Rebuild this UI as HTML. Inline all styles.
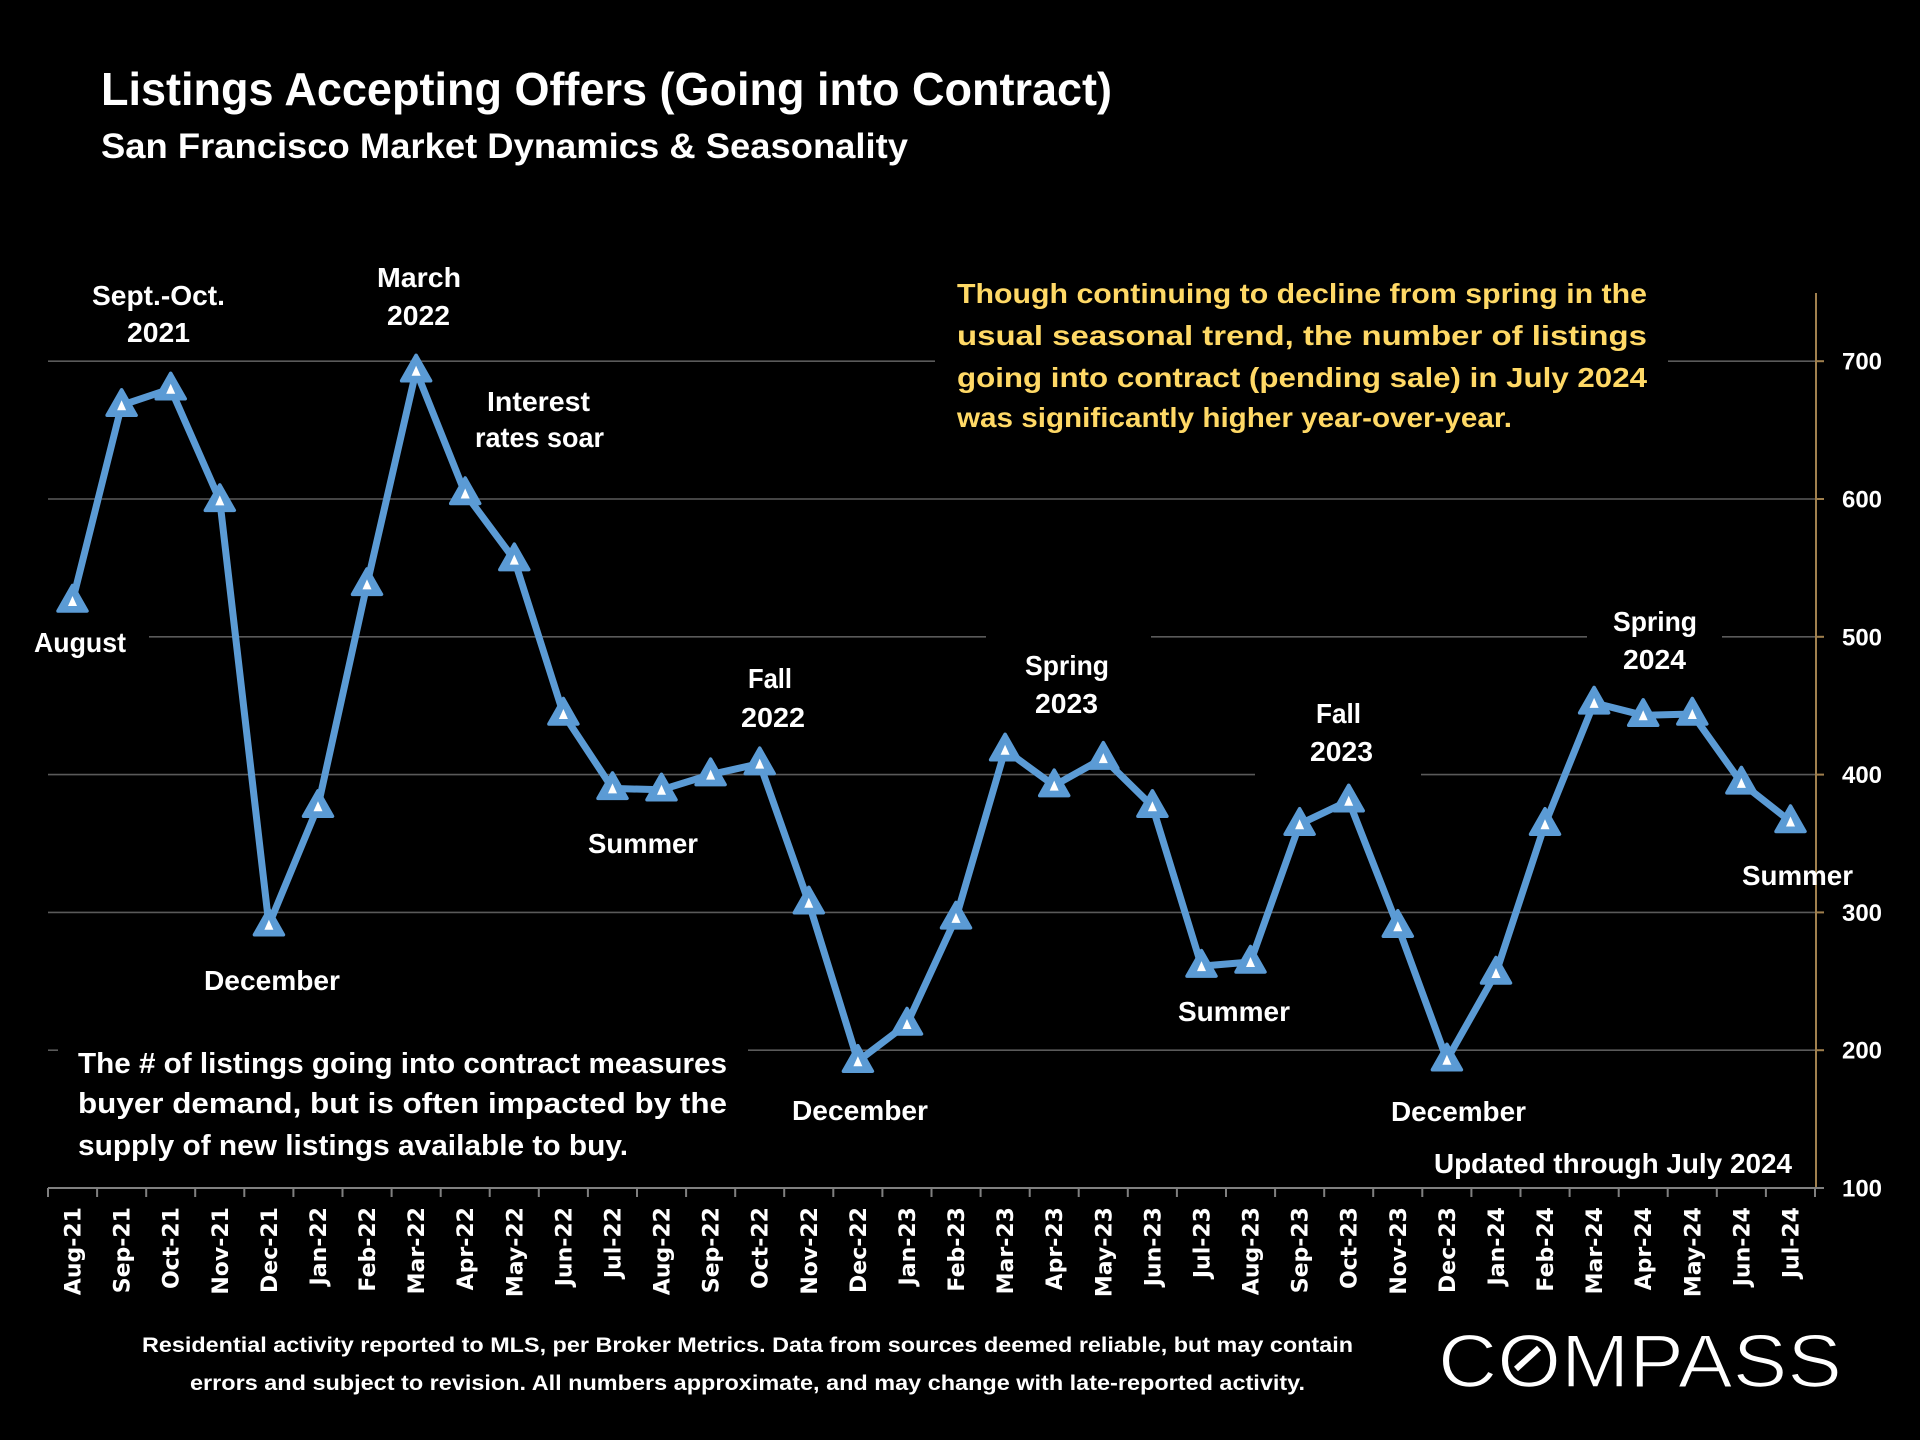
<!DOCTYPE html>
<html>
<head>
<meta charset="utf-8">
<style>
html,body{margin:0;padding:0;background:#000;}
body{width:1920px;height:1440px;overflow:hidden;}
svg{display:block;}
text{font-family:"Liberation Sans",Arial,sans-serif;font-weight:bold;fill:#fff;}
.xl{font-family:"DejaVu Sans","Liberation Sans",sans-serif;font-size:22px;font-weight:bold;}
</style>
</head>
<body>
<svg width="1920" height="1440" viewBox="0 0 1920 1440" xmlns="http://www.w3.org/2000/svg">
<rect width="1920" height="1440" fill="#000"/>

<!-- gridlines -->
<g stroke="#5a5a5a" stroke-width="1.6">
  <line x1="48" y1="361.2" x2="935" y2="361.2"/>
  <line x1="1668" y1="361.2" x2="1816" y2="361.2"/>
  <line x1="48" y1="499" x2="1816" y2="499"/>
  <line x1="149" y1="636.8" x2="986" y2="636.8"/>
  <line x1="1151" y1="636.8" x2="1587" y2="636.8"/>
  <line x1="1722" y1="636.8" x2="1816" y2="636.8"/>
  <line x1="48" y1="774.6" x2="1255" y2="774.6"/>
  <line x1="1421" y1="774.6" x2="1816" y2="774.6"/>
  <line x1="48" y1="912.4" x2="1816" y2="912.4"/>
  <line x1="48" y1="1050.2" x2="58" y2="1050.2"/>
  <line x1="748" y1="1050.2" x2="1816" y2="1050.2"/>
</g>

<!-- right axis -->
<g stroke="#a0804e" stroke-width="2">
  <line x1="1816" y1="293" x2="1816" y2="1188"/>
  <line x1="1816" y1="361.2" x2="1824" y2="361.2"/>
  <line x1="1816" y1="499" x2="1824" y2="499"/>
  <line x1="1816" y1="636.8" x2="1824" y2="636.8"/>
  <line x1="1816" y1="774.6" x2="1824" y2="774.6"/>
  <line x1="1816" y1="912.4" x2="1824" y2="912.4"/>
  <line x1="1816" y1="1050.2" x2="1824" y2="1050.2"/>
</g>

<!-- bottom axis -->
<g stroke="#808080" stroke-width="2">
  <line x1="48" y1="1188" x2="1824" y2="1188"/>
  <path d="M48,1188v9M97.1,1188v9M146.2,1188v9M195.2,1188v9M244.3,1188v9M293.4,1188v9M342.5,1188v9M391.6,1188v9M440.7,1188v9M489.7,1188v9M538.8,1188v9M587.9,1188v9M637,1188v9M686.1,1188v9M735.2,1188v9M784.2,1188v9M833.3,1188v9M882.4,1188v9M931.5,1188v9M980.6,1188v9M1029.7,1188v9M1078.7,1188v9M1127.8,1188v9M1176.9,1188v9M1226,1188v9M1275.1,1188v9M1324.2,1188v9M1373.2,1188v9M1422.3,1188v9M1471.4,1188v9M1520.5,1188v9M1569.6,1188v9M1618.7,1188v9M1667.7,1188v9M1716.8,1188v9M1765.9,1188v9M1815,1188v9"/>
</g>

<!-- series line -->
<polyline fill="none" stroke="#5B9BD5" stroke-width="7" stroke-linejoin="round" points="
72.5,601 121.6,405.3 170.7,388.8 219.8,500.4 268.9,924.8 318,806.3 367,584.4 416.1,370.8 465.2,493.5 514.3,559.6 563.4,714 612.5,788.4 661.5,789.8 710.6,774.6 759.7,763.6 808.8,902.8 857.9,1061.2 907,1024 956,917.9 1005.1,749.8 1054.2,785.6 1103.3,758.1 1152.4,806.3 1201.5,966.1 1250.5,962 1299.6,824.2 1348.7,800.8 1397.8,926.2 1446.9,1059.8 1496,973 1545,824.2 1594.1,702.9 1643.2,715.3 1692.3,714 1741.4,782.9 1790.5,821.5"/>

<defs>
  <g id="mk">
    <polygon points="0,-15.5 14.5,10 -14.5,10" fill="#5B9BD5" stroke="#5B9BD5" stroke-width="3.5" stroke-linejoin="round"/>
    <polygon points="0,-5 4.5,5 -4.5,5" fill="#fff"/>
  </g>
</defs>
<g>
<use href="#mk" x="72.5" y="601"/>
<use href="#mk" x="121.6" y="405.3"/>
<use href="#mk" x="170.7" y="388.8"/>
<use href="#mk" x="219.8" y="500.4"/>
<use href="#mk" x="268.9" y="924.8"/>
<use href="#mk" x="318" y="806.3"/>
<use href="#mk" x="367" y="584.4"/>
<use href="#mk" x="416.1" y="370.8"/>
<use href="#mk" x="465.2" y="493.5"/>
<use href="#mk" x="514.3" y="559.6"/>
<use href="#mk" x="563.4" y="714"/>
<use href="#mk" x="612.5" y="788.4"/>
<use href="#mk" x="661.5" y="789.8"/>
<use href="#mk" x="710.6" y="774.6"/>
<use href="#mk" x="759.7" y="763.6"/>
<use href="#mk" x="808.8" y="902.8"/>
<use href="#mk" x="857.9" y="1061.2"/>
<use href="#mk" x="907" y="1024"/>
<use href="#mk" x="956" y="917.9"/>
<use href="#mk" x="1005.1" y="749.8"/>
<use href="#mk" x="1054.2" y="785.6"/>
<use href="#mk" x="1103.3" y="758.1"/>
<use href="#mk" x="1152.4" y="806.3"/>
<use href="#mk" x="1201.5" y="966.1"/>
<use href="#mk" x="1250.5" y="962"/>
<use href="#mk" x="1299.6" y="824.2"/>
<use href="#mk" x="1348.7" y="800.8"/>
<use href="#mk" x="1397.8" y="926.2"/>
<use href="#mk" x="1446.9" y="1059.8"/>
<use href="#mk" x="1496" y="973"/>
<use href="#mk" x="1545" y="824.2"/>
<use href="#mk" x="1594.1" y="702.9"/>
<use href="#mk" x="1643.2" y="715.3"/>
<use href="#mk" x="1692.3" y="714"/>
<use href="#mk" x="1741.4" y="782.9"/>
<use href="#mk" x="1790.5" y="821.5"/>
</g>

<!-- title -->
<text x="101" y="105" font-size="46" textLength="1011" lengthAdjust="spacingAndGlyphs">Listings Accepting Offers (Going into Contract)</text>
<text x="101" y="158" font-size="35" textLength="807" lengthAdjust="spacingAndGlyphs">San Francisco Market Dynamics &amp; Seasonality</text>

<!-- yellow note -->
<g font-size="28">
<text x="957" y="303" textLength="690" lengthAdjust="spacingAndGlyphs" style="fill:#FFD966">Though continuing to decline from spring in the</text>
<text x="957" y="345" textLength="690" lengthAdjust="spacingAndGlyphs" style="fill:#FFD966">usual seasonal trend, the number of listings</text>
<text x="957" y="387" textLength="690" lengthAdjust="spacingAndGlyphs" style="fill:#FFD966">going into contract (pending sale) in July 2024</text>
<text x="957" y="427" textLength="555" lengthAdjust="spacingAndGlyphs" style="fill:#FFD966">was significantly higher year-over-year.</text>
</g>

<!-- bottom-left note -->
<g font-size="29">
<text x="78" y="1073" textLength="649" lengthAdjust="spacingAndGlyphs">The # of listings going into contract measures</text>
<text x="78" y="1113" textLength="649" lengthAdjust="spacingAndGlyphs">buyer demand, but is often impacted by the</text>
<text x="78" y="1155" textLength="550" lengthAdjust="spacingAndGlyphs">supply of new listings available to buy.</text>
</g>

<!-- annotations -->
<g font-size="28">
<text x="92" y="305" textLength="133" lengthAdjust="spacingAndGlyphs">Sept.-Oct.</text>
<text x="127" y="342" textLength="63" lengthAdjust="spacingAndGlyphs">2021</text>
<text x="377" y="287" textLength="84" lengthAdjust="spacingAndGlyphs">March</text>
<text x="387" y="325" textLength="63" lengthAdjust="spacingAndGlyphs">2022</text>
<text x="487" y="411" textLength="103" lengthAdjust="spacingAndGlyphs">Interest</text>
<text x="475" y="447" textLength="129" lengthAdjust="spacingAndGlyphs">rates soar</text>
<text x="34" y="652" textLength="92" lengthAdjust="spacingAndGlyphs">August</text>
<text x="204" y="990" textLength="136" lengthAdjust="spacingAndGlyphs">December</text>
<text x="588" y="853" textLength="110" lengthAdjust="spacingAndGlyphs">Summer</text>
<text x="748" y="688" textLength="44" lengthAdjust="spacingAndGlyphs">Fall</text>
<text x="741" y="727" textLength="64" lengthAdjust="spacingAndGlyphs">2022</text>
<text x="792" y="1120" textLength="136" lengthAdjust="spacingAndGlyphs">December</text>
<text x="1025" y="675" textLength="84" lengthAdjust="spacingAndGlyphs">Spring</text>
<text x="1035" y="713" textLength="63" lengthAdjust="spacingAndGlyphs">2023</text>
<text x="1178" y="1021" textLength="112" lengthAdjust="spacingAndGlyphs">Summer</text>
<text x="1316" y="723" textLength="45" lengthAdjust="spacingAndGlyphs">Fall</text>
<text x="1310" y="761" textLength="63" lengthAdjust="spacingAndGlyphs">2023</text>
<text x="1391" y="1121" textLength="135" lengthAdjust="spacingAndGlyphs">December</text>
<text x="1613" y="631" textLength="84" lengthAdjust="spacingAndGlyphs">Spring</text>
<text x="1623" y="669" textLength="63" lengthAdjust="spacingAndGlyphs">2024</text>
<text x="1742" y="885" textLength="111" lengthAdjust="spacingAndGlyphs">Summer</text>
<text x="1434" y="1173" textLength="358" lengthAdjust="spacingAndGlyphs">Updated through July 2024</text>
</g>

<!-- right axis labels -->
<g font-size="24">
<text x="1842" y="1196.5" textLength="40" lengthAdjust="spacingAndGlyphs">100</text>
<text x="1842" y="1058.7" textLength="40" lengthAdjust="spacingAndGlyphs">200</text>
<text x="1842" y="920.9" textLength="40" lengthAdjust="spacingAndGlyphs">300</text>
<text x="1842" y="783.1" textLength="40" lengthAdjust="spacingAndGlyphs">400</text>
<text x="1842" y="645.3" textLength="40" lengthAdjust="spacingAndGlyphs">500</text>
<text x="1842" y="507.5" textLength="40" lengthAdjust="spacingAndGlyphs">600</text>
<text x="1842" y="369.7" textLength="40" lengthAdjust="spacingAndGlyphs">700</text>
</g>

<!-- x axis labels -->
<g class="xl" text-anchor="end">
<text class="xl" transform="translate(80.5,1207) rotate(-90)">Aug-21</text>
<text class="xl" transform="translate(129.6,1207) rotate(-90)">Sep-21</text>
<text class="xl" transform="translate(178.7,1207) rotate(-90)">Oct-21</text>
<text class="xl" transform="translate(227.8,1207) rotate(-90)">Nov-21</text>
<text class="xl" transform="translate(276.9,1207) rotate(-90)">Dec-21</text>
<text class="xl" transform="translate(326,1207) rotate(-90)">Jan-22</text>
<text class="xl" transform="translate(375,1207) rotate(-90)">Feb-22</text>
<text class="xl" transform="translate(424.1,1207) rotate(-90)">Mar-22</text>
<text class="xl" transform="translate(473.2,1207) rotate(-90)">Apr-22</text>
<text class="xl" transform="translate(522.3,1207) rotate(-90)">May-22</text>
<text class="xl" transform="translate(571.4,1207) rotate(-90)">Jun-22</text>
<text class="xl" transform="translate(620.5,1207) rotate(-90)">Jul-22</text>
<text class="xl" transform="translate(669.5,1207) rotate(-90)">Aug-22</text>
<text class="xl" transform="translate(718.6,1207) rotate(-90)">Sep-22</text>
<text class="xl" transform="translate(767.7,1207) rotate(-90)">Oct-22</text>
<text class="xl" transform="translate(816.8,1207) rotate(-90)">Nov-22</text>
<text class="xl" transform="translate(865.9,1207) rotate(-90)">Dec-22</text>
<text class="xl" transform="translate(915,1207) rotate(-90)">Jan-23</text>
<text class="xl" transform="translate(964,1207) rotate(-90)">Feb-23</text>
<text class="xl" transform="translate(1013.1,1207) rotate(-90)">Mar-23</text>
<text class="xl" transform="translate(1062.2,1207) rotate(-90)">Apr-23</text>
<text class="xl" transform="translate(1111.3,1207) rotate(-90)">May-23</text>
<text class="xl" transform="translate(1160.4,1207) rotate(-90)">Jun-23</text>
<text class="xl" transform="translate(1209.5,1207) rotate(-90)">Jul-23</text>
<text class="xl" transform="translate(1258.5,1207) rotate(-90)">Aug-23</text>
<text class="xl" transform="translate(1307.6,1207) rotate(-90)">Sep-23</text>
<text class="xl" transform="translate(1356.7,1207) rotate(-90)">Oct-23</text>
<text class="xl" transform="translate(1405.8,1207) rotate(-90)">Nov-23</text>
<text class="xl" transform="translate(1454.9,1207) rotate(-90)">Dec-23</text>
<text class="xl" transform="translate(1504,1207) rotate(-90)">Jan-24</text>
<text class="xl" transform="translate(1553,1207) rotate(-90)">Feb-24</text>
<text class="xl" transform="translate(1602.1,1207) rotate(-90)">Mar-24</text>
<text class="xl" transform="translate(1651.2,1207) rotate(-90)">Apr-24</text>
<text class="xl" transform="translate(1700.3,1207) rotate(-90)">May-24</text>
<text class="xl" transform="translate(1749.4,1207) rotate(-90)">Jun-24</text>
<text class="xl" transform="translate(1798.5,1207) rotate(-90)">Jul-24</text>
</g>

<!-- footer -->
<g font-size="21">
<text x="142" y="1352" textLength="1211" lengthAdjust="spacingAndGlyphs">Residential activity reported to MLS, per Broker Metrics. Data from sources deemed reliable, but may contain</text>
<text x="190" y="1390" textLength="1115" lengthAdjust="spacingAndGlyphs">errors and subject to revision. All numbers approximate, and may change with late-reported activity.</text>
</g>

<!-- COMPASS logo -->
<text x="1438" y="1387" font-size="75" style="font-weight:normal" stroke="#000" stroke-width="1.6" textLength="404" lengthAdjust="spacingAndGlyphs">COMPASS</text>
<line x1="1516" y1="1369" x2="1539" y2="1348" stroke="#fff" stroke-width="6"/>
</svg>
</body>
</html>
